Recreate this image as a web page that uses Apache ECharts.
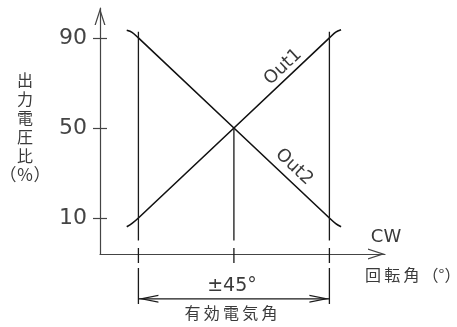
<!DOCTYPE html>
<html>
<head>
<meta charset="utf-8">
<script src="https://cdn.jsdelivr.net/npm/echarts@6/dist/echarts.min.js"></script>
<style>
    html, body { margin: 0; padding: 0; background: #fff; }
    #chart { width: 457px; height: 327px; }
</style>
</head>
<body>
<div id="chart"></div>
<script>
// 出力電圧比 (回転角[°], 出力[%])
var out1Data = [[-50.5, 6.1], [-48, 7.6], [-45, 10], [45, 90], [48, 92.6], [50.5, 93.6]];
var out2Data = [[-50.5, 93.4], [-48, 92.5], [-45, 90], [45, 10], [48, 7.5], [50.5, 6.1]];
// 縦軸の目盛り
var yTicks = [10, 50, 90];
// 有効電気角の境界と中心
var effAngles = [-45, 45];
var centerAngle = 0;
// 補助線 (上端, 下端) の区間
var sideSegments = [[92.8, 0], [-3.3, -10], [-12.2, -28.2]];
var centerSegments = [[50, 0], [-3.3, -10]];
// 寸法線の高さ
var dimLevel = -25.9;

var lineColor = '#1a1a1a';
var textColor = '#3a3a3a';
var thin = '\u2009';
// 開いた矢印 (上向き)
var axisArrow = 'path://M5.5,0 L11,17 L9.7,17 L5.5,4 L1.3,17 L0,17 Z';
var dimArrow = 'path://M4,0 L8,20 L6.8,20 L4,6 L1.2,20 L0,20 Z';

// 文字間を少し空ける
function spaced(str) {
    return str.split('').join(thin);
}

// 補助線のデータを作る
function buildGuide() {
    var pts = [];
    function addSegs(x, segs) {
        segs.forEach(function (s) {
            pts.push([x, s[0]], [x, s[1]], ['-', '-']);
        });
    }
    addSegs(effAngles[0], sideSegments);
    addSegs(centerAngle, centerSegments);
    addSegs(effAngles[1], sideSegments);
    return pts;
}

var chart = echarts.init(document.getElementById('chart'));
var option = {
    animation: false,
    grid: { left: 100, right: 72, top: 8, bottom: 73, outerBoundsMode: 'none' },
    xAxis: {
        type: 'value',
        min: -63.1,
        max: 71.2,
        axisLine: {
            onZero: false,
            lineStyle: { color: '#444', width: 1.2 },
            symbol: ['none', axisArrow],
            symbolSize: [11, 17],
            symbolOffset: [0, -8.5]
        },
        axisTick: { show: false },
        axisLabel: { show: false },
        splitLine: { show: false }
    },
    yAxis: [
        {
            type: 'value',
            min: -6,
            max: 103.3,
            axisLine: {
                show: true,
                onZero: false,
                lineStyle: { color: '#444', width: 1.2 },
                symbol: ['none', axisArrow],
                symbolSize: [11, 17],
                symbolOffset: [0, -8.5]
            },
            axisTick: {
                show: true,
                length: 7,
                customValues: yTicks,
                lineStyle: { color: '#444', width: 1.2 }
            },
            axisLabel: {
                customValues: yTicks,
                margin: 13,
                fontSize: 22,
                fontFamily: 'DejaVu Sans',
                color: '#444'
            },
            splitLine: { show: false }
        },
        {
            // 目盛りの内側部分
            type: 'value',
            position: 'left',
            min: -6,
            max: 103.3,
            axisLine: { show: false, onZero: false },
            axisTick: {
                show: true,
                inside: true,
                length: 7,
                customValues: yTicks,
                lineStyle: { color: '#444', width: 1.2 }
            },
            axisLabel: { show: false },
            splitLine: { show: false }
        }
    ],
    graphic: [
        {
            type: 'text', x: 25, y: 70.5,
            style: { text: '出\n力\n電\n圧\n比', fontSize: 16, fontFamily: 'Noto Sans CJK JP', lineHeight: 19, fill: textColor, align: 'center', verticalAlign: 'top' }
        },
        {
            type: 'text', x: 25, y: 175,
            style: { text: '（％）', fontSize: 17, fontFamily: 'Noto Sans CJK JP', fill: textColor, align: 'center', verticalAlign: 'middle' }
        },
        {
            type: 'text', x: 386, y: 237,
            style: { text: 'CW', fontSize: 18, fontFamily: 'DejaVu Sans', fill: textColor, align: 'center', verticalAlign: 'middle' }
        },
        {
            type: 'text', x: 365, y: 275,
            style: { text: spaced('回転角') + thin + '（°）', fontSize: 16, fontFamily: 'Noto Sans CJK JP', fill: textColor, align: 'left', verticalAlign: 'middle' }
        },
        {
            type: 'text', x: 232, y: 286,
            style: { text: '±45°', fontSize: 19, fontFamily: 'DejaVu Sans', fill: textColor, align: 'center', verticalAlign: 'middle' }
        },
        {
            type: 'text', x: 231, y: 313,
            style: { text: spaced('有効電気角'), fontSize: 16, fontFamily: 'Noto Sans CJK JP', fill: textColor, align: 'center', verticalAlign: 'middle' }
        },
        {
            type: 'text', x: 283, y: 67, rotation: 0.756,
            style: { text: 'Out1', fontSize: 18, fontFamily: 'DejaVu Sans', fill: textColor, align: 'center', verticalAlign: 'middle' }
        },
        {
            type: 'text', x: 294, y: 167, rotation: -0.756,
            style: { text: 'Out2', fontSize: 18, fontFamily: 'DejaVu Sans', fill: textColor, align: 'center', verticalAlign: 'middle' }
        }
    ],
    series: [
        {
            name: 'Out1',
            type: 'line',
            data: out1Data,
            smooth: 0.3,
            symbol: 'none',
            silent: true,
            lineStyle: { color: '#111', width: 1.6 }
        },
        {
            name: 'Out2',
            type: 'line',
            data: out2Data,
            smooth: 0.3,
            symbol: 'none',
            silent: true,
            lineStyle: { color: '#111', width: 1.6 }
        },
        {
            name: 'guide',
            type: 'line',
            data: buildGuide(),
            symbol: 'none',
            silent: true,
            clip: false,
            lineStyle: { color: lineColor, width: 1.3 }
        },
        {
            name: 'dimension',
            type: 'line',
            clip: false,
            silent: true,
            showSymbol: true,
            symbolSize: [8, 20],
            itemStyle: { color: lineColor },
            lineStyle: { color: lineColor, width: 1.3 },
            data: [
                { value: [effAngles[0], dimLevel], symbol: dimArrow, symbolRotate: 90, symbolOffset: [10, 0] },
                { value: [effAngles[1], dimLevel], symbol: dimArrow, symbolRotate: -90, symbolOffset: [-10, 0] }
            ]
        }
    ]
};
chart.setOption(option);
</script>
</body>
</html>
